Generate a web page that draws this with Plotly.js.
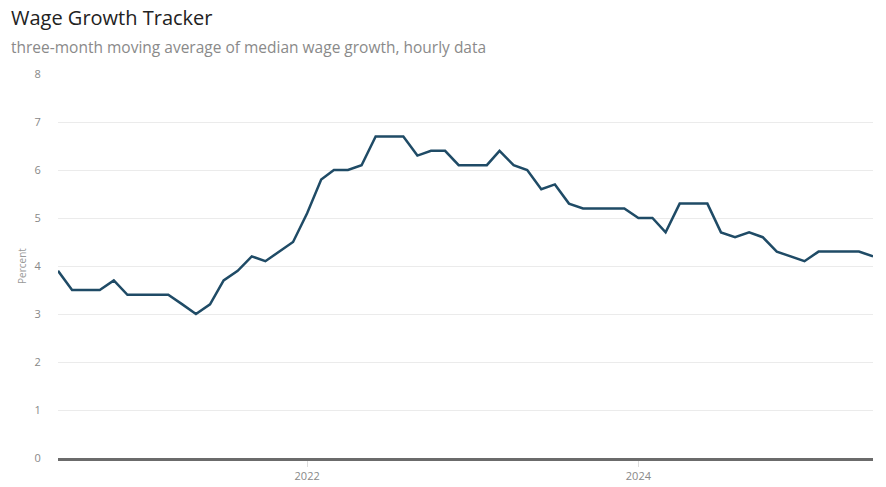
<!DOCTYPE html>
<html>
<head>
<meta charset="utf-8">
<script src="https://cdn.plot.ly/plotly-3.0.1.min.js"></script>
<style>html,body{margin:0;padding:0;background:#fff;}#chart{width:886px;height:487px;}</style>
</head>
<body>
<div id="chart"></div>
<script>
const months = [
"2020-07","2020-08","2020-09","2020-10","2020-11","2020-12",
"2021-01","2021-02","2021-03","2021-04","2021-05","2021-06","2021-07","2021-08","2021-09","2021-10","2021-11","2021-12",
"2022-01","2022-02","2022-03","2022-04","2022-05","2022-06","2022-07","2022-08","2022-09","2022-10","2022-11","2022-12",
"2023-01","2023-02","2023-03","2023-04","2023-05","2023-06","2023-07","2023-08","2023-09","2023-10","2023-11","2023-12",
"2024-01","2024-02","2024-03","2024-04","2024-05","2024-06","2024-07","2024-08","2024-09","2024-10","2024-11","2024-12",
"2025-01","2025-02","2025-03","2025-04","2025-05","2025-06"];
const wageGrowth = [
3.9,3.5,3.5,3.5,3.7,3.4,
3.4,3.4,3.4,3.2,3.0,3.2,3.7,3.9,4.2,4.1,4.3,4.5,
5.1,5.8,6.0,6.0,6.1,6.7,6.7,6.7,6.3,6.4,6.4,6.1,
6.1,6.1,6.4,6.1,6.0,5.6,5.7,5.3,5.2,5.2,5.2,5.2,
5.0,5.0,4.7,5.3,5.3,5.3,4.7,4.6,4.7,4.6,4.3,4.2,
4.1,4.3,4.3,4.3,4.3,4.2];
const xTickVals = ["2022-01-01","2024-01-01"];
const xTickText = ["2022","2024"];
const yTickVals = [0,1,2,3,4,5,6,7,8];

const fontFam = "'Open Sans', 'Noto Sans', sans-serif";
const trace = {
  x: months.map(m => m + "-01"),
  y: wageGrowth,
  type: "scatter",
  mode: "lines",
  line: {color: "#1f4b66", width: 2.5},
  hoverinfo: "x+y"
};
const layout = {
  width: 886, height: 487,
  margin: {l: 58, r: 13, t: 74, b: 29},
  paper_bgcolor: "#fff", plot_bgcolor: "#fff",
  font: {family: fontFam, color: "#888"},
  showlegend: false,
  title: {
    text: "Wage Growth Tracker",
    font: {family: fontFam, size: 20, color: "#222"},
    xref: "container", yref: "container",
    x: 11/886, xanchor: "left",
    y: 1 - 18/487, yanchor: "middle"
  },
  annotations: [{
    text: "three-month moving average of median wage growth, hourly data",
    xref: "paper", yref: "paper",
    x: (9-58)/815, xanchor: "left",
    y: (458-47)/384, yanchor: "middle",
    showarrow: false,
    font: {family: fontFam, size: 15.5, color: "#8a8a8a"}
  }],
  xaxis: {
    type: "date",
    range: [months[0] + "-01", months[months.length-1] + "-01"],
    tickvals: xTickVals,
    ticktext: xTickText,
    ticks: "outside", ticklen: 6, tickcolor: "#ddd", tickwidth: 1,
    showgrid: false, zeroline: false,
    showline: true, linecolor: "#6b6b6b", linewidth: 3,
    tickfont: {size: 11, color: "#888"},
    fixedrange: true
  },
  yaxis: {
    range: [0, 8],
    tickvals: yTickVals,
    ticks: "outside", ticklen: 14, tickcolor: "rgba(0,0,0,0)",
    showgrid: true, gridcolor: "#ebebeb", gridwidth: 1,
    zeroline: false, showline: false,
    tickfont: {size: 11, color: "#888"},
    title: {text: "Percent", font: {size: 10, color: "#999"}, standoff: 6},
    fixedrange: true
  }
};
Plotly.newPlot("chart", [trace], layout, {displayModeBar: false, staticPlot: true});
</script>
</body>
</html>
